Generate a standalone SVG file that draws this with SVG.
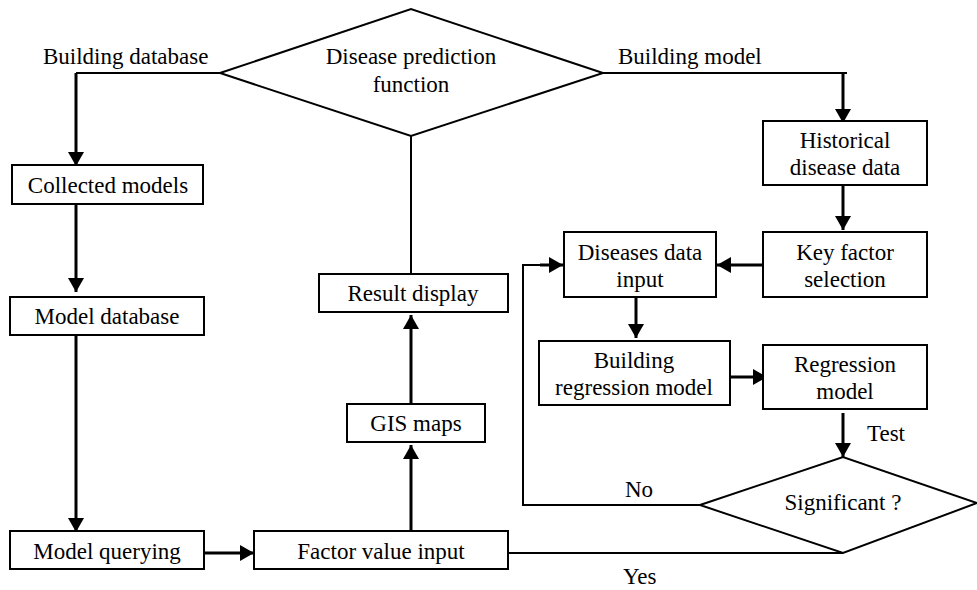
<svg xmlns="http://www.w3.org/2000/svg" width="977" height="590" viewBox="0 0 977 590">
<defs>
<marker id="ah" markerUnits="userSpaceOnUse" markerWidth="15" markerHeight="16" refX="14" refY="8" orient="auto" viewBox="0 0 15 16">
<path d="M0,0 L14,8 L0,16 z" fill="#000"/>
</marker>
<style>
.box{fill:#fff;stroke:#000;stroke-width:2}
.dia{fill:#fff;stroke:#000;stroke-width:2}
text{font-family:'Liberation Serif','Times New Roman','DejaVu Serif',serif;font-size:23px;fill:#000}
.t{text-anchor:middle}
.ln{fill:none;stroke:#000;stroke-width:2}
.ar{fill:none;stroke:#000;stroke-width:3;marker-end:url(#ah)}
</style>
</defs>
<rect width="977" height="590" fill="#fff"/>
<g id="connectors" font-family="Liberation Serif, Times New Roman, serif">
<polyline class="ln" points="220,73 76,73"/>
<line class="ar" x1="76" y1="73" x2="76" y2="166"/>
<line class="ar" x1="76" y1="204" x2="76" y2="292"/>
<line class="ar" x1="76" y1="335" x2="76" y2="532"/>
<line class="ar" x1="204" y1="553" x2="254" y2="553"/>
<line class="ar" x1="411" y1="531" x2="411" y2="445"/>
<line class="ar" x1="411" y1="404" x2="411" y2="315"/>
<line class="ln" x1="411" y1="136" x2="411" y2="274"/>
<polyline class="ln" points="603,73 847,73"/>
<line class="ar" x1="843" y1="73" x2="843" y2="123"/>
<line class="ar" x1="843" y1="185" x2="843" y2="230"/>
<line class="ar" x1="763" y1="265" x2="717" y2="265"/>
<line class="ar" x1="636" y1="297" x2="636" y2="338"/>
<line class="ar" x1="730" y1="377" x2="767" y2="377"/>
<line class="ar" x1="843" y1="413" x2="843" y2="457"/>
<polyline class="ln" points="700,505 523,505 523,265 548,265"/>
<line class="ar" x1="540" y1="265" x2="563" y2="265"/>
<polyline class="ln" points="508,553 843,553"/>
<text x="43" y="64">Building database</text>
<text x="618" y="64">Building model</text>
<text x="867" y="441">Test</text>
<text x="625" y="497">No</text>
<text x="623" y="584">Yes</text>
</g>
<g id="n-prediction">
<polygon class="dia" points="220,73 411,9 603,73 411,136"/>
<text class="t" x="411" y="64">Disease prediction</text>
<text class="t" x="411" y="92">function</text>
</g>
<g id="n-collected">
<rect class="box" x="12" y="165" width="191" height="39"/>
<text class="t" x="108" y="193">Collected models</text>
</g>
<g id="n-modeldb">
<rect class="box" x="10" y="297" width="194" height="38"/>
<text class="t" x="107" y="324">Model database</text>
</g>
<g id="n-querying">
<rect class="box" x="10" y="531" width="194" height="38"/>
<text class="t" x="107" y="559">Model querying</text>
</g>
<g id="n-factor">
<rect class="box" x="254" y="531" width="254" height="38"/>
<text class="t" x="381" y="559">Factor value input</text>
</g>
<g id="n-gis">
<rect class="box" x="347" y="404" width="138" height="38"/>
<text class="t" x="416" y="431">GIS maps</text>
</g>
<g id="n-result">
<rect class="box" x="319" y="274" width="189" height="38"/>
<text class="t" x="413" y="301">Result display</text>
</g>
<g id="n-historical">
<rect class="box" x="763" y="121" width="164" height="64"/>
<text class="t" x="845" y="148">Historical</text>
<text class="t" x="845" y="175">disease data</text>
</g>
<g id="n-keyfactor">
<rect class="box" x="763" y="232" width="164" height="65"/>
<text class="t" x="845" y="260">Key factor</text>
<text class="t" x="845" y="287">selection</text>
</g>
<g id="n-diseases">
<rect class="box" x="564" y="232" width="152" height="65"/>
<text class="t" x="640" y="260">Diseases data</text>
<text class="t" x="640" y="287">input</text>
</g>
<g id="n-buildreg">
<rect class="box" x="539" y="341" width="191" height="64"/>
<text class="t" x="634" y="368">Building</text>
<text class="t" x="634" y="395">regression model</text>
</g>
<g id="n-regmodel">
<rect class="box" x="763" y="345" width="164" height="64"/>
<text class="t" x="845" y="372">Regression</text>
<text class="t" x="845" y="399">model</text>
</g>
<g id="n-significant">
<polygon class="dia" points="700,505 843,457 977,503 843,553"/>
<text class="t" x="843" y="510">Significant ?</text>
</g>
</svg>
